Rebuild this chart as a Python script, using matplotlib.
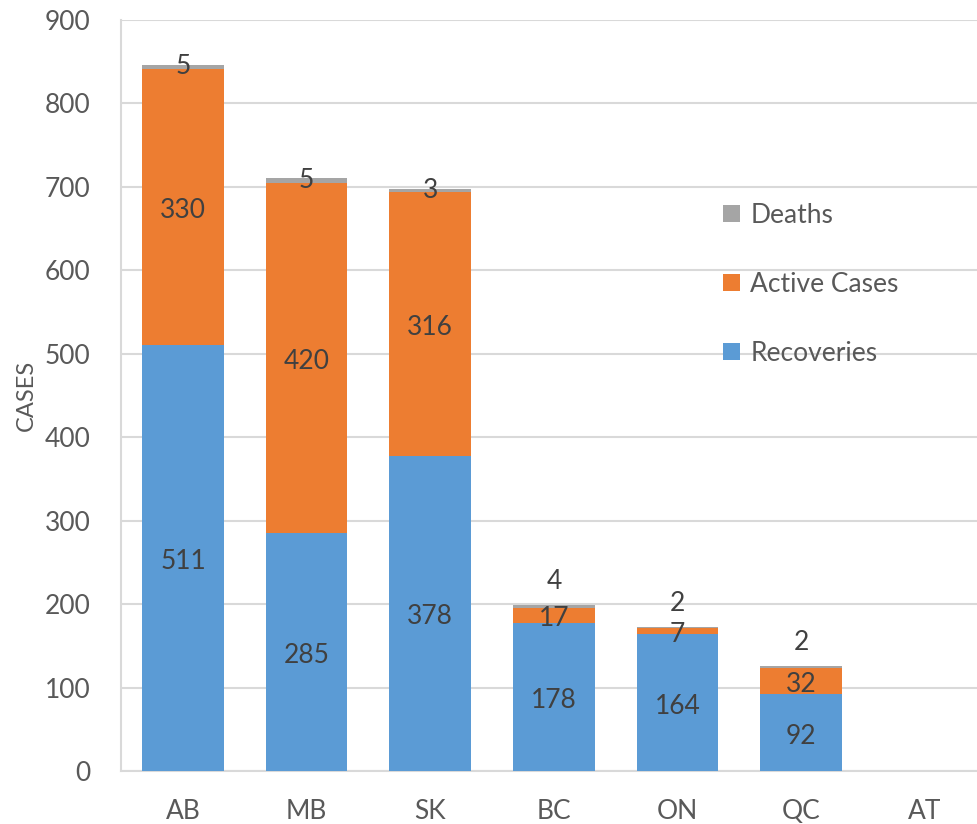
import numpy as np
import matplotlib
matplotlib.use('Agg')
from matplotlib import pyplot as plt

regions = ['AB', 'MB', 'SK', 'BC', 'ON', 'QC', 'AT']
recoveries = [511, 285, 378, 178, 164, 92, 0]
active = [330, 420, 316, 17, 7, 32, 0]
deaths = [5, 5, 3, 4, 2, 2, 0]

blue = '#5B9BD5'
orange = '#ED7D31'
grey = '#A5A5A5'
txt = '#404040'

plt.rcParams['font.family'] = ['Lato', 'DejaVu Sans']

fig = plt.figure(figsize=(9.77, 8.24), dpi=100)
ax = fig.add_axes([0.124, 0.064, 0.886, 0.912])

x = np.arange(len(regions))
rec = np.array(recoveries)
act = np.array(active)
dea = np.array(deaths)
w = 0.66

ax.bar(x, rec, w, color=blue, label='Recoveries', zorder=3)
ax.bar(x, act, w, bottom=rec, color=orange, label='Active Cases', zorder=3)
ax.bar(x, dea, w, bottom=rec + act, color=grey, label='Deaths', zorder=3)

fs = 19
for i in range(len(regions)):
    if rec[i] + act[i] + dea[i] == 0:
        continue
    ax.text(x[i], rec[i] / 2 - 4, str(rec[i]), ha='center', va='center',
            fontsize=fs, color=txt, zorder=4)
    ax.text(x[i], rec[i] + act[i] / 2 - 4, str(act[i]), ha='center', va='center',
            fontsize=fs, color=txt, zorder=4)
    top = rec[i] + act[i] + dea[i]
    if top < 300:
        yd = top + 28
    else:
        yd = rec[i] + act[i] + dea[i] / 2
    ax.text(x[i], yd, str(dea[i]), ha='center', va='center',
            fontsize=fs, color=txt, zorder=4)

ax.set_xlim(-0.5, len(regions) - 0.5)
ax.set_ylim(0, 900)
ax.set_yticks(range(0, 901, 100))
ax.set_xticks(x)
ax.set_xticklabels(regions)
ax.yaxis.grid(True, color='#D9D9D9', linewidth=1.5, zorder=0)
ax.tick_params(axis='both', length=0, labelsize=fs, colors='#595959')
ax.tick_params(axis='y', pad=22)
ax.tick_params(axis='x', pad=20)
for s in ['top', 'right']:
    ax.spines[s].set_visible(False)
ax.spines['left'].set_color('#D9D9D9')
ax.spines['bottom'].set_color('#D9D9D9')
ax.spines['left'].set_linewidth(1.5)
ax.spines['bottom'].set_linewidth(1.5)

ax.set_ylabel('CASES', fontsize=17, color='#595959', labelpad=6)

h, l = ax.get_legend_handles_labels()
leg = ax.legend(h[::-1], l[::-1], loc='upper left', bbox_to_anchor=(0.716, 0.783),
                bbox_transform=fig.transFigure, frameon=False, fontsize=fs,
                handlelength=0.62, handleheight=0.62, labelspacing=1.67,
                handletextpad=0.4)
for t in leg.get_texts():
    t.set_color('#595959')

fig.savefig('out.png', dpi=100)
